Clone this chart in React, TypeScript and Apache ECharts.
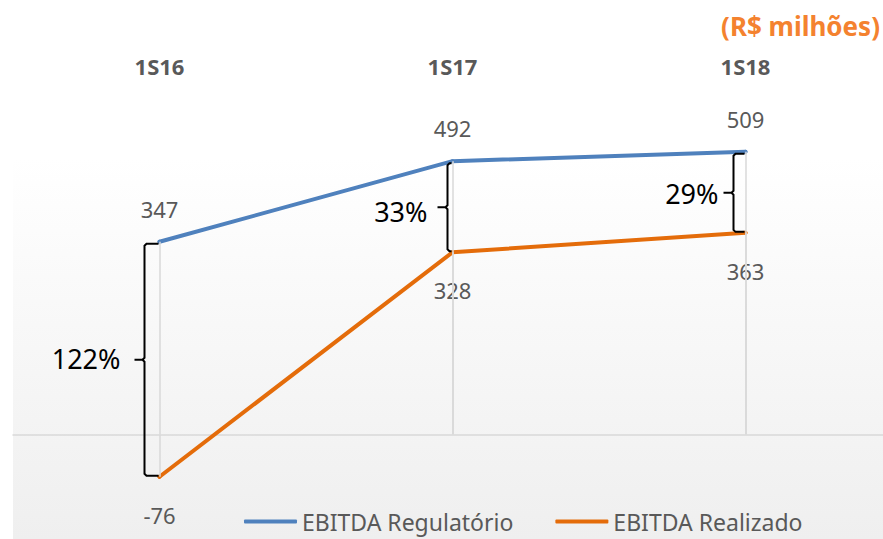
import React, { useEffect, useRef } from "react";
import * as echarts from "echarts";

const categories = ["1S16", "1S17", "1S18"];
const regulatorio = [347, 492, 509];
const realizado = [-76, 328, 363];
const gapLabels = ["122%", "33%", "29%"];
const seriesNames = ["EBITDA Regulatório", "EBITDA Realizado"];
const unitLabel = "(R$ milhões)";

const FONT = "'Noto Sans', 'Open Sans', sans-serif";
const BLUE = "#4f81bd";
const ORANGE = "#e46c0a";
const GRAY_TEXT = "#595959";
const GRID_GRAY = "#d9d9d9";

// per-bracket style offsets (px)
const bracketStyle = [
  { dx: 15, labelGap: 14, labelDy: -1 },
  { dx: 5, labelGap: 10, labelDy: 4 },
  { dx: 12, labelGap: 5, labelDy: 1 },
];

export default function App() {
  const ref = useRef<HTMLDivElement>(null);
  useEffect(() => {
    if (!ref.current) return;
    const chart = echarts.init(ref.current, null, { renderer: "svg" });
    const dropLines = (vals: number[]) =>
      categories.map((c, i) => [{ coord: [c, 0] }, { coord: [c, vals[i]] }]);
    const mkSeries = (name: string, vals: number[], color: string, pos: string, dist: number) => ({
      name,
      type: "line",
      data: vals,
      xAxisIndex: 0,
      yAxisIndex: 0,
      symbol: "circle",
      symbolSize: 4,
      lineStyle: { color, width: 4, cap: "round" },
      itemStyle: { color },
      label: {
        show: true,
        position: pos,
        distance: dist,
        fontSize: 22,
        color: GRAY_TEXT,
        fontFamily: FONT,
      },
      markLine: {
        silent: true,
        symbol: "none",
        label: { show: false },
        lineStyle: { color: GRID_GRAY, width: 1.5, type: "solid" },
        data: dropLines(vals),
      },
      z: 3,
    });
    chart.setOption({
      animation: false,
      grid: {
        left: 13,
        width: 879,
        top: 45.6,
        bottom: 48.9,
        containLabel: false,
        outerBoundsMode: "none",
      },
      xAxis: [
        {
          type: "category",
          data: categories,
          boundaryGap: true,
          axisLine: { show: true, onZero: true, lineStyle: { color: GRID_GRAY, width: 1.5 } },
          axisTick: { show: false },
          axisLabel: { show: false },
          splitLine: { show: false },
        },
        {
          type: "category",
          data: categories,
          position: "top",
          boundaryGap: true,
          axisLine: { show: false, onZero: false },
          axisTick: { show: false },
          axisLabel: {
            inside: true,
            margin: 20,
            verticalAlign: "middle",
            fontWeight: "bold",
            fontSize: 22,
            color: GRAY_TEXT,
            fontFamily: FONT,
          },
          splitLine: { show: false },
        },
      ],
      yAxis: {
        type: "value",
        min: -100,
        max: 700,
        show: false,
        splitLine: { show: false },
      },
      legend: {
        data: seriesNames,
        icon: "roundRect",
        itemWidth: 53,
        itemHeight: 4,
        itemGap: 42,
        left: 242,
        top: 508,
        padding: 2,
        textStyle: { fontSize: 23, color: GRAY_TEXT, fontFamily: FONT },
      },
      series: [
        mkSeries(seriesNames[0], regulatorio, BLUE, "top", 20),
        mkSeries(seriesNames[1], realizado, ORANGE, "bottom", 25),
      ],
    });

    const graphics: any[] = [
      {
        type: "rect",
        z: -10,
        silent: true,
        shape: { x: 13, y: 158, width: 870, height: 381 },
        style: {
          fill: new echarts.graphic.LinearGradient(0, 0, 0, 1, [
            { offset: 0, color: "#ffffff" },
            { offset: 1, color: "#efefef" },
          ]),
        },
      },
      {
        type: "text",
        x: 880,
        y: 26,
        style: {
          text: unitLabel,
          align: "right",
          verticalAlign: "middle",
          fontSize: 26,
          fontWeight: "bold",
          fill: "#f4822f",
          fontFamily: FONT,
        },
      },
    ];
    categories.forEach((c, i) => {
      const top = chart.convertToPixel({ seriesIndex: 0 }, [c, regulatorio[i]]) as number[];
      const bot = chart.convertToPixel({ seriesIndex: 1 }, [c, realizado[i]]) as number[];
      const st = bracketStyle[i];
      const xp = top[0];
      const xv = xp - st.dx;
      const xr = xp - 1;
      const yT = top[1] + 2;
      const yB = bot[1] - 1;
      const yM = (yT + yB) / 2;
      const xn = xv - 10;
      graphics.push({
        type: "polyline",
        silent: true,
        z: 5,
        shape: {
          points: [
            [xr, yT],
            [xv + 2, yT],
            [xv, yT + 2],
            [xv, yM - 2],
            [xv - 2, yM],
            [xn, yM],
            [xv - 2, yM],
            [xv, yM + 2],
            [xv, yB - 2],
            [xv + 2, yB],
            [xr, yB],
          ],
        },
        style: { stroke: "#000", lineWidth: 2, fill: null },
      });
      graphics.push({
        type: "text",
        z: 5,
        x: xn - st.labelGap,
        y: yM + st.labelDy,
        style: {
          text: gapLabels[i],
          align: "right",
          verticalAlign: "middle",
          fontSize: 27,
          fill: "#000",
          fontFamily: FONT,
        },
      });
    });
    chart.setOption({ graphic: graphics });
    return () => chart.dispose();
  }, []);
  return (
    <div
      ref={ref}
      style={{ position: "fixed", left: 0, top: 0, width: 883, height: 539, background: "#fff" }}
    />
  );
}
